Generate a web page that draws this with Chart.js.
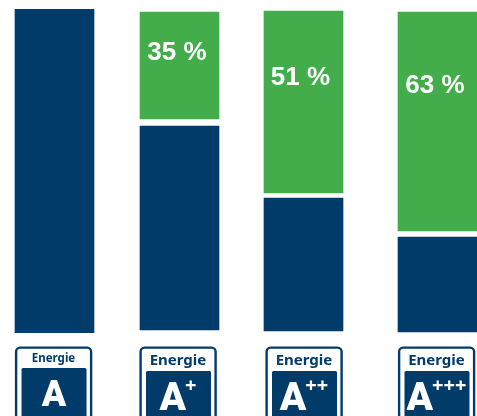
<!DOCTYPE html>
<html><head><meta charset="utf-8">
<script src="https://cdn.jsdelivr.net/npm/chart.js@4"></script>
<style>html,body{margin:0;padding:0;background:#fff}canvas{display:block}</style>
</head><body><canvas id="c" width="477" height="416"></canvas>
<script>
const classes = ["A", "A+", "A++", "A+++"];
const classPositions = [0, 1, 1.992, 3.064];
const consumptionBase = [0, 0.93, 0.62, 0.31];
const consumptionTop = [100, 63.89, 41.67, 29.63];
const savingBase = [null, 66.05, 43.2, 31.48];
const savingTop = [null, 99.07, 99.38, 99.07];
const savingLabels = [null, "35 %", "51 %", "63 %"];

const BLUE = "#003b6a", GREEN = "#43ad4b";
const labelDx = [0, -2.5, -3, -2.5], labelY = [0, 53, 78, 86];
const badgeDx = [-1, -1.5, 0.5, -1];
const rr = (x, y, w, h, r) => { const g = new Path2D(); g.roundRect(x, y, w, h, r); return g; };

const overlay = {
  id: "overlay",
  afterDraw(chart) {
    const ctx = chart.ctx, xs = chart.scales.x;
    ctx.save();
    ctx.textBaseline = "alphabetic";
    classes.forEach((cls, i) => {
      const cx = xs.getPixelForValue(classPositions[i]);
      if (savingLabels[i]) {
        ctx.fillStyle = "#fff";
        ctx.font = "bold 26px 'Liberation Sans'";
        ctx.textAlign = "center";
        ctx.textBaseline = "middle";
        ctx.fillText(savingLabels[i], cx + labelDx[i], labelY[i]);
        ctx.textBaseline = "alphabetic";
      }
      const small = i === 0;
      const bx = cx + badgeDx[i] - 38, w = 76;
      ctx.strokeStyle = BLUE; ctx.lineWidth = 2.4;
      ctx.stroke(rr(bx + 0.6, 347.6, w - 1, 80, 4));
      ctx.fillStyle = BLUE;
      ctx.textAlign = "center";
      ctx.font = `bold ${small ? 11.5 : 15}px 'Noto Sans'`;
      ctx.fillText("Energie", bx + 38, small ? 362 : 365);
      const top = small ? 368 : 371;
      ctx.fill(rr(bx + 6, top, 65, 60, 1.5));
      ctx.fillStyle = "#fff";
      const plus = cls.slice(1);
      const fa = small ? "900 36px Roboto" : "900 39px Roboto";
      const fp = "bold 20px 'Noto Sans'";
      ctx.font = fa; const wa = ctx.measureText("A").width;
      ctx.font = fp; const wp = ctx.measureText(plus).width;
      const sx = bx + 38.5 - (wa + wp) / 2;
      ctx.textAlign = "left";
      ctx.font = fa; ctx.fillText("A", sx, small ? 406 : 410);
      ctx.font = fp; ctx.fillText(plus, sx + wa - 1, 392);
    });
    ctx.restore();
  }
};

new Chart(document.getElementById("c"), {
  type: "bar",
  data: {
    labels: classes,
    datasets: [
      { label: "Verbrauch", backgroundColor: BLUE,
        data: classes.map((_, i) => ({ x: classPositions[i], y: [consumptionBase[i], consumptionTop[i]] })) },
      { label: "Einsparung", backgroundColor: GREEN,
        data: classes.map((_, i) => ({ x: classPositions[i], y: savingBase[i] === null ? null : [savingBase[i], savingTop[i]] })) }
    ]
  },
  options: {
    responsive: false, animation: false,
    layout: { padding: { top: 9, bottom: 83, left: 0, right: 0 } },
    datasets: { bar: { grouped: false, barThickness: 79, borderWidth: 0 } },
    plugins: { legend: { display: false }, tooltip: { enabled: false } },
    scales: {
      x: { type: "linear", display: false, offset: false, min: -0.436, max: 3.38 },
      y: { display: false, min: 0, max: 100 }
    }
  },
  plugins: [overlay]
});
</script></body></html>
